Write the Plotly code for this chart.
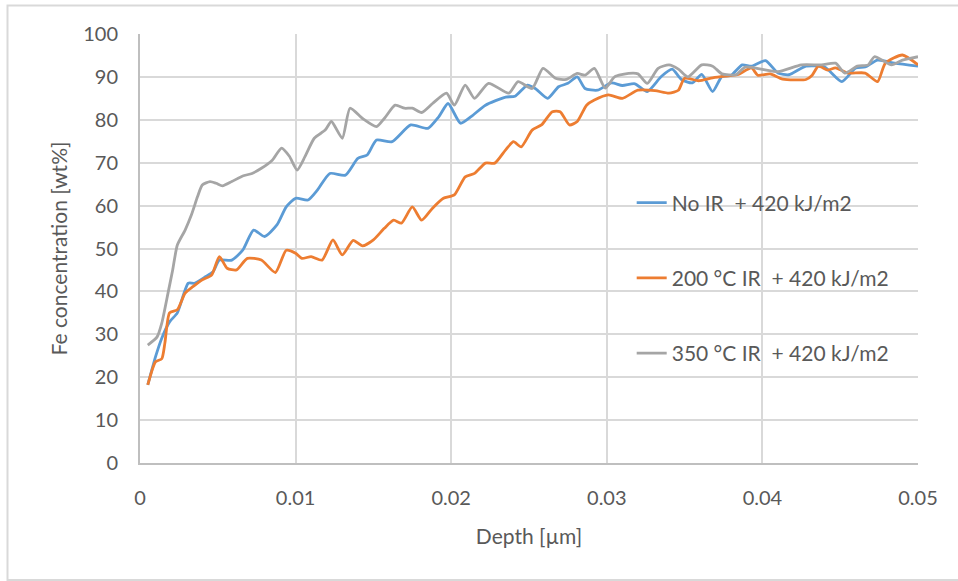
import plotly.graph_objects as go

# ---------------- data ----------------
noir_depth = [0.0005, 0.001, 0.0014, 0.0019, 0.0024, 0.0031, 0.0035, 0.0042, 0.0047, 0.0051,
              0.0059, 0.0066, 0.0073, 0.008, 0.0088, 0.0094, 0.01, 0.0108, 0.0114, 0.0122,
              0.0132, 0.014, 0.0146, 0.0152, 0.0162, 0.0174, 0.0185, 0.0192, 0.0198, 0.0206,
              0.0213, 0.0222, 0.0235, 0.0241, 0.0249, 0.0254, 0.0262, 0.0269, 0.0275, 0.0281,
              0.0286, 0.0294, 0.0303, 0.031, 0.0318, 0.0326, 0.0335, 0.0342, 0.0348, 0.0355,
              0.0361, 0.0368, 0.0374, 0.038, 0.0387, 0.0393, 0.0402, 0.041, 0.0417, 0.0428,
              0.044, 0.0451, 0.046, 0.0466, 0.0474, 0.0485, 0.05]
noir_fe = [18.2, 24.8, 29.1, 32.9, 35.0, 41.9, 41.9, 43.4, 44.6, 47.3,
           47.3, 49.6, 54.3, 52.8, 55.5, 59.7, 61.7, 61.3, 63.6, 67.5,
           67.1, 71.0, 71.8, 75.3, 74.9, 78.8, 78.0, 80.7, 83.8, 79.2,
           80.8, 83.4, 85.3, 85.5, 88.1, 87.3, 85.0, 87.7, 88.5, 90.0,
           87.3, 86.9, 88.6, 88.0, 88.4, 86.6, 90.1, 91.8, 89.4, 88.6,
           90.6, 86.6, 90.1, 90.4, 92.8, 92.5, 93.8, 90.9, 90.5, 92.5,
           92.3, 88.9, 92.1, 92.3, 93.9, 93.2, 92.5]

ir200_depth = [0.0005, 0.001, 0.0014, 0.0016, 0.0019, 0.0024, 0.0029, 0.0034, 0.004, 0.0046,
               0.0051, 0.0056, 0.0062, 0.0069, 0.0078, 0.0087, 0.0094, 0.01, 0.0104, 0.011,
               0.0117, 0.0124, 0.013, 0.0137, 0.0143, 0.015, 0.0157, 0.0163, 0.0168, 0.0175,
               0.0181, 0.0188, 0.0195, 0.0202, 0.0209, 0.0215, 0.0222, 0.0228, 0.0235, 0.024,
               0.0245, 0.0252, 0.0258, 0.0265, 0.027, 0.0276, 0.0281, 0.0287, 0.0292, 0.0301,
               0.031, 0.032, 0.0331, 0.034, 0.0346, 0.035, 0.0359, 0.0368, 0.0376, 0.0384,
               0.0393, 0.0397, 0.0405, 0.0413, 0.0428, 0.0432, 0.0436, 0.0442, 0.0447, 0.0455,
               0.0466, 0.0474, 0.0479, 0.049, 0.05]
ir200_fe = [18.2, 23.6, 24.3, 28.0, 35.0, 35.7, 39.6, 41.1, 42.7, 43.8,
            48.1, 45.4, 45.0, 47.7, 47.3, 44.4, 49.6, 48.9, 47.7, 48.1,
            47.3, 52.0, 48.5, 51.9, 50.6, 52.0, 54.7, 56.6, 55.9, 59.7,
            56.6, 59.4, 61.7, 62.5, 66.7, 67.5, 69.9, 69.9, 73.0, 74.9,
            73.7, 77.6, 78.8, 81.9, 81.9, 78.8, 79.6, 83.4, 84.6, 85.8,
            85.0, 86.9, 86.8, 86.2, 86.9, 89.7, 89.1, 89.8, 90.2, 90.5,
            92.1, 90.4, 90.7, 89.5, 89.4, 90.4, 92.5, 91.6, 92.1, 90.9,
            90.9, 88.9, 93.2, 95.1, 92.8]

ir350_depth = [0.0005, 0.0011, 0.0014, 0.0018, 0.0021, 0.0024, 0.0029, 0.0033, 0.0037, 0.004,
               0.0045, 0.0049, 0.0053, 0.0059, 0.0066, 0.0072, 0.0078, 0.0085, 0.0091, 0.0096,
               0.0101, 0.0106, 0.0112, 0.0119, 0.0123, 0.013, 0.0135, 0.0143, 0.0152, 0.0157,
               0.0164, 0.017, 0.0175, 0.0181, 0.0188, 0.0197, 0.0202, 0.0209, 0.0215, 0.0224,
               0.0237, 0.0243, 0.0252, 0.0259, 0.0267, 0.0274, 0.0281, 0.0286, 0.0292, 0.0299,
               0.0305, 0.0314, 0.032, 0.0326, 0.0333, 0.034, 0.0346, 0.0352, 0.0361, 0.0368,
               0.0374, 0.0383, 0.0389, 0.041, 0.0425, 0.0438, 0.0447, 0.0453, 0.0461, 0.0468,
               0.0472, 0.0483, 0.049, 0.05]
ir350_fe = [27.5, 29.4, 32.6, 39.6, 45.0, 50.8, 54.3, 57.8, 62.1, 64.8,
            65.6, 65.2, 64.6, 65.6, 66.9, 67.5, 68.7, 70.6, 73.4, 71.5,
            68.3, 71.4, 75.7, 77.6, 79.6, 75.7, 82.7, 80.3, 78.4, 80.3,
            83.4, 82.7, 82.7, 81.7, 83.8, 86.2, 83.4, 88.1, 85.0, 88.5,
            86.2, 88.9, 87.3, 92.0, 89.7, 89.4, 90.8, 90.4, 92.0, 87.4,
            90.0, 90.8, 90.7, 88.5, 92.0, 92.8, 91.8, 90.0, 92.8, 92.5,
            90.7, 90.5, 92.3, 91.2, 92.8, 92.8, 93.2, 90.9, 92.5, 92.8,
            94.7, 92.8, 93.9, 94.7]

series_names = ["No IR\u00a0\u00a0+ 420 kJ/m2",
                "200 °C IR\u00a0\u00a0+ 420 kJ/m2",
                "350 °C IR\u00a0\u00a0+ 420 kJ/m2"]
series_colors = ["#5b9bd5", "#ed7d31", "#a5a5a5"]

x_ticks = [0, 0.01, 0.02, 0.03, 0.04, 0.05]
x_tick_labels = ["0", "0.01", "0.02", "0.03", "0.04", "0.05"]
y_ticks = [0, 10, 20, 30, 40, 50, 60, 70, 80, 90, 100]

# ---------------- figure ----------------
FONT = "Lato, Noto Sans, sans-serif"
TXT = "#595959"
GRID = "#d9d9d9"

fig = go.Figure()
for i, (xs, ys) in enumerate([(noir_depth, noir_fe), (ir200_depth, ir200_fe), (ir350_depth, ir350_fe)]):
    fig.add_trace(go.Scatter(
        x=xs, y=ys, mode="lines", name=series_names[i],
        legendgroup=f"g{i}",
        line=dict(color=series_colors[i], width=2.8, shape="spline", smoothing=0.6),
        hoverinfo="skip",
    ))

fig.update_layout(
    width=958, height=581,
    margin=dict(l=140, r=40, t=34, b=118),
    paper_bgcolor="white", plot_bgcolor="white",
    font=dict(family=FONT, size=20, color=TXT),
    showlegend=True,
    legend=dict(
        x=0.632, y=0.654, xanchor="left", yanchor="top",
        bgcolor="rgba(0,0,0,0)", borderwidth=0,
        font=dict(family=FONT, size=21, color=TXT),
        tracegroupgap=45, traceorder="grouped",
        itemwidth=30,
    ),
    xaxis=dict(
        range=[0, 0.05], tickvals=x_ticks, ticktext=x_tick_labels,
        showgrid=True, gridcolor=GRID, gridwidth=2,
        showline=True, linecolor="#bfbfbf", linewidth=2,
        zeroline=False, ticks="", ticklen=0, ticklabelstandoff=16,
        title=dict(text="Depth [µm]", font=dict(family=FONT, size=21, color=TXT), standoff=21),
        tickfont=dict(family=FONT, size=20, color=TXT),
    ),
    yaxis=dict(
        range=[0, 100], tickvals=y_ticks,
        showgrid=True, gridcolor=GRID, gridwidth=2,
        showline=True, linecolor="#bfbfbf", linewidth=2,
        zeroline=False, ticks="", ticklen=0, ticklabelstandoff=16,
        title=dict(text="Fe concentration [wt%]", font=dict(family=FONT, size=21, color=TXT), standoff=10),
        tickfont=dict(family=FONT, size=20, color=TXT),
    ),
)

# outer chart-area border
fig.add_shape(type="rect", xref="paper", yref="paper",
              x0=(7.5 - 140) / 778, x1=(962 - 140) / 778,
              y0=(463 - 580) / 429, y1=(463 - 5.5) / 429,
              line=dict(color=GRID, width=2), fillcolor="rgba(0,0,0,0)", layer="below")

fig.write_html("out.html")
